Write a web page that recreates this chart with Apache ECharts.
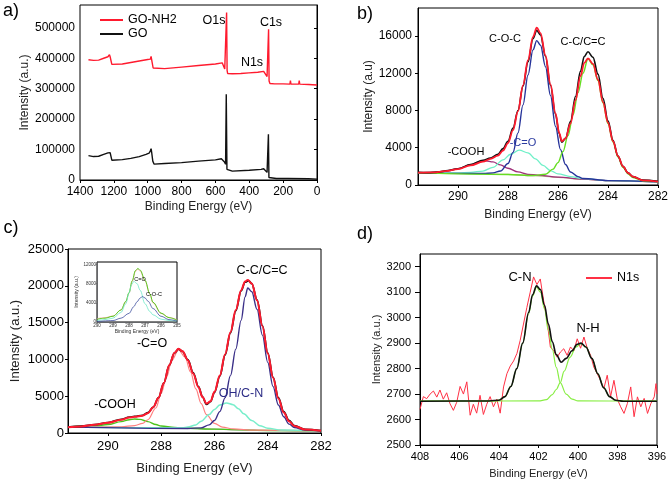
<!DOCTYPE html>
<html><head><meta charset="utf-8">
<script src="https://cdn.jsdelivr.net/npm/echarts@6/dist/echarts.min.js"></script>
<style>html,body{margin:0;padding:0;background:#fff}#c{width:671px;height:484px}</style>
</head><body><div id="c"></div>
<script>
// ---------- Panel a: survey spectra ----------
const aTicks = [0, 200, 400, 600, 800, 1000, 1200, 1400];
const a_GONH2 = [[1350,395000],[1320,393000],[1290,394000],[1260,400000],[1235,405000],[1226,412000],[1222,405000],[1212,380000],[1205,377000],[1150,381000],[1100,386000],[1050,391000],[1000,396000],[990,399000],[985,397000],[980,406000],[975,390000],[968,368000],[960,364000],[900,366000],[800,371000],[700,376000],[600,381000],[560,385000],[550,380000],[545,365000],[537,360000],[534,550000],[531,360000],[528,350000],[500,349000],[450,350000],[402,352000],[400,357000],[398,352000],[350,354000],[315,357000],[305,352000],[295,340000],[288,340000],[286,495000],[283,325000],[278,317000],[250,316000],[200,316000],[160,315000],[157,327000],[154,315000],[108,315000],[105,327000],[102,315000],[50,314000],[0,312000]];
const a_GO = [[1350,80000],[1320,77000],[1290,78000],[1260,84000],[1235,89000],[1226,95000],[1222,90000],[1212,65000],[1205,63000],[1150,67000],[1100,71000],[1050,77000],[1010,84000],[1000,90000],[992,88000],[985,95000],[980,103000],[976,88000],[970,62000],[962,52000],[900,54000],[800,57000],[700,62000],[600,66000],[565,70000],[555,72000],[548,60000],[540,52000],[536,282000],[532,35000],[528,30000],[500,29000],[400,32000],[330,35000],[315,37000],[305,32000],[295,25000],[290,25000],[287,150000],[284,8000],[280,5000],[240,5000],[233,9000],[230,5000],[172,5000],[170,9000],[168,5000],[50,4000],[0,3000]];

// ---------- Panel b: C1s of GO ----------
const b_raw = [[291.6,1350],[291.2,1330],[290.8,1380],[290.4,1550],[290,1750],[289.5,2200],[289,2650],[288.7,2900],[288.4,3300],[288.2,3900],[288,4700],[287.8,6100],[287.6,8000],[287.4,10600],[287.2,13200],[287,15700],[286.85,16600],[286.7,16100],[286.5,13800],[286.3,10700],[286.1,7600],[285.95,5500],[285.85,4600],[285.7,5000],[285.5,6800],[285.3,9500],[285.1,12200],[284.95,13800],[284.8,14300],[284.6,13700],[284.4,11900],[284.2,9300],[284,6900],[283.8,4800],[283.6,3100],[283.4,2000],[283.2,1300],[283,900],[282.6,520],[282,400]];
const b_fit = [[291.6,1320],[291,1350],[290.5,1480],[290,1700],[289.5,2100],[289,2500],[288.7,2800],[288.4,3150],[288.2,3700],[288,4500],[287.8,5900],[287.6,7900],[287.4,10700],[287.2,13400],[287,15900],[286.85,16900],[286.7,16300],[286.5,13900],[286.3,10800],[286.1,7700],[285.95,5600],[285.85,4700],[285.7,5000],[285.5,6600],[285.3,9100],[285.1,11700],[284.95,13100],[284.8,13600],[284.6,13000],[284.4,11300],[284.2,8900],[284,6700],[283.8,4700],[283.6,3100],[283.4,2000],[283.2,1300],[283,900],[282.6,500],[282,360]];
const b_COOH = [[291.6,1310],[291,1350],[290.5,1500],[290,1750],[289.5,2150],[289.2,2450],[288.9,2600],[288.6,2480],[288.3,2150],[288,1800],[287.6,1400],[287.2,1150],[286.8,1050],[286,850],[285,640],[284,470],[282,350]];
const b_CO = [[291.6,1300],[290,1300],[289.5,1350],[289,1500],[288.6,1900],[288.2,2700],[287.9,3300],[287.55,3750],[287.2,3450],[286.9,2800],[286.6,2100],[286.3,1550],[286,1200],[285.5,900],[285,680],[284,470],[282,350]];
const b_COC = [[291.6,1300],[289,1230],[288.6,1300],[288.3,1500],[288,2300],[287.8,3500],[287.6,5600],[287.4,8600],[287.2,11800],[287,14500],[286.85,15500],[286.7,15000],[286.5,12700],[286.3,9600],[286.1,6300],[285.9,3800],[285.7,2200],[285.5,1400],[285.2,900],[285,700],[284,470],[282,350]];
const b_CC = [[291.6,1300],[288,1130],[287,1020],[286.5,1150],[286.2,1700],[286,2400],[285.8,3600],[285.6,5300],[285.4,7500],[285.2,9900],[285,12000],[284.8,13550],[284.6,12900],[284.4,11200],[284.2,8800],[284,6600],[283.8,4600],[283.6,3000],[283.4,1900],[283.2,1200],[283,800],[282.6,450],[282,350]];
const b_bg = [[291.6,1300],[290,1280],[289,1220],[288,1130],[287,1000],[286,820],[285,620],[284,460],[283,380],[282,350]];

// ---------- Panel c: C1s of GO-NH2 ----------
const c_raw = [[291.5,800],[291,920],[290.5,1150],[290,1420],[289.5,1850],[289.2,2150],[289,2250],[288.7,2400],[288.5,2750],[288.3,3500],[288.1,4800],[287.9,6800],[287.7,9200],[287.5,10900],[287.35,11400],[287.2,11100],[287,9950],[286.8,8200],[286.6,6300],[286.45,4900],[286.3,3900],[286.15,4250],[286,5500],[285.8,7700],[285.6,10600],[285.4,13600],[285.2,16600],[285,19300],[284.85,20500],[284.72,20700],[284.6,20300],[284.4,18100],[284.2,14600],[284,10900],[283.8,7600],[283.6,4800],[283.4,2900],[283.2,1700],[283,1000],[282.6,500],[282,330]];
const c_fit = [[291.5,780],[291,900],[290.5,1130],[290,1400],[289.5,1800],[289.2,2100],[289,2200],[288.7,2350],[288.5,2700],[288.3,3500],[288.1,4800],[287.9,6800],[287.7,9200],[287.5,10900],[287.35,11450],[287.2,11100],[287,9900],[286.8,8100],[286.6,6200],[286.45,4900],[286.3,4000],[286.15,4300],[286,5600],[285.8,7800],[285.6,10700],[285.4,13700],[285.2,16700],[285,19400],[284.85,20600],[284.75,20800],[284.6,20300],[284.4,18000],[284.2,14500],[284,10800],[283.8,7500],[283.6,4700],[283.4,2800],[283.2,1600],[283,950],[282.6,480],[282,320]];
const c_COOH = [[291.5,820],[290.5,950],[290,1150],[289.5,1550],[289.2,1800],[289,1900],[288.8,1850],[288.5,1550],[288.2,1150],[288,950],[287.5,760],[287,640],[286,520],[284,340],[282,290]];
const c_CO = [[291.5,800],[289.5,850],[289,1000],[288.7,1300],[288.5,1800],[288.2,3400],[288,5400],[287.8,7600],[287.6,9900],[287.35,11300],[287.1,10300],[286.9,8300],[286.7,6000],[286.5,4000],[286.3,2500],[286,1300],[285.7,800],[285.3,550],[284.5,380],[282,290]];
const c_OH = [[291.5,800],[288,700],[287.2,720],[287,800],[286.7,1100],[286.5,1600],[286.2,2500],[286,3200],[285.8,3800],[285.55,4080],[285.3,3850],[285.1,3300],[284.9,2600],[284.6,1700],[284.3,1000],[284,650],[283.5,400],[282,290]];
const c_CC = [[291.5,800],[287,620],[286.5,700],[286.2,1100],[286,1700],[285.8,2900],[285.6,4800],[285.4,7800],[285.2,11400],[285,15300],[284.85,18500],[284.75,19700],[284.6,19200],[284.4,16800],[284.2,13300],[284,9600],[283.8,6300],[283.6,3800],[283.4,2200],[283.2,1200],[283,750],[282.6,400],[282,290]];
const c_bg = [[291.5,800],[290,780],[289,740],[288,690],[287,620],[286,520],[285,420],[284,340],[283,300],[282,290]];

// ---------- Inset of panel c ----------
const i_fit = [[290,700],[289.5,900],[289,1250],[288.5,2500],[288.2,4200],[288,6000],[287.8,8400],[287.6,10500],[287.45,11000],[287.3,10600],[287,8600],[286.7,5800],[286.5,4000],[286,1800],[285.5,950],[285,450]];
const i_env = [[290,560],[289.5,800],[289,1200],[288.5,2500],[288.2,4300],[288,6100],[287.8,8600],[287.6,10700],[287.45,11150],[287.3,10800],[287,8700],[286.7,5900],[286.5,4100],[286,1850],[285.5,900],[285,400]];
const i_CO = [[290,300],[289.5,500],[289,800],[288.5,2000],[288.2,3800],[288,6000],[287.85,7700],[287.7,8470],[287.5,8000],[287.3,6600],[287,3800],[286.7,2200],[286.5,1500],[286,600],[285.5,300],[285,200]];
const i_COC = [[290,100],[289,300],[288.5,800],[288,1800],[287.7,3200],[287.5,4200],[287.3,5000],[287.15,5300],[287,5000],[286.8,4300],[286.5,2800],[286,1200],[285.5,500],[285,200]];

// ---------- Panel d: N1s ----------
const d_raw = [[408.00,2640],[407.83,2690],[407.66,2682],[407.49,2700],[407.32,2712],[407.15,2688],[406.99,2716],[406.82,2680],[406.65,2705],[406.48,2662],[406.31,2636],[406.14,2668],[405.97,2730],[405.80,2700],[405.63,2748],[405.46,2617],[405.30,2660],[405.13,2625],[404.96,2695],[404.79,2620],[404.62,2660],[404.45,2690],[404.28,2650],[404.11,2680],[403.94,2625],[403.77,2728],[403.60,2780],[403.43,2810],[403.26,2830],[403.09,2860],[402.93,2910],[402.76,2975],[402.59,3040],[402.42,3100],[402.25,3160],[402.08,3130],[401.91,3152],[401.74,3067],[401.57,2990],[401.40,2885],[401.23,2870],[401.06,2845],[400.89,2865],[400.72,2878],[400.55,2852],[400.38,2885],[400.21,2870],[400.04,2917],[399.87,2880],[399.70,2924],[399.53,2880],[399.36,2852],[399.20,2806],[399.03,2780],[398.86,2754],[398.69,2722],[398.52,2774],[398.35,2690],[398.18,2754],[398.01,2680],[397.84,2650],[397.67,2624],[397.50,2663],[397.33,2728],[397.16,2611],[396.99,2689],[396.82,2650],[396.65,2683],[396.48,2624],[396.31,2663],[396.14,2689],[396.05,2741],[396.00,2700]];
const d_fit = [[408,2672],[404.5,2673],[404,2676],[403.7,2690],[403.4,2730],[403.1,2800],[402.8,2900],[402.5,3020],[402.3,3090],[402.1,3125],[401.9,3110],[401.7,3050],[401.5,2975],[401.3,2905],[401.1,2855],[400.85,2825],[400.6,2840],[400.3,2870],[400.05,2895],[399.85,2900],[399.6,2885],[399.3,2840],[399,2780],[398.7,2725],[398.4,2690],[398.1,2676],[397.7,2672],[396,2672]];
const d_CN = [[408,2672],[404.3,2673],[404,2676],[403.7,2690],[403.4,2730],[403.1,2800],[402.8,2900],[402.5,3015],[402.3,3085],[402.1,3120],[401.9,3100],[401.7,3035],[401.5,2950],[401.3,2875],[401.1,2805],[400.9,2745],[400.6,2700],[400.3,2680],[400,2673],[396,2672]];
const d_NH = [[408,2672],[402,2673],[401.6,2678],[401.3,2698],[401.1,2718],[400.9,2745],[400.7,2790],[400.4,2845],[400.1,2885],[399.85,2898],[399.6,2885],[399.3,2840],[399,2780],[398.7,2725],[398.4,2690],[398.1,2676],[397.7,2672],[396,2672]];

const FONT = '"Liberation Sans", Arial, sans-serif';
const chart = echarts.init(document.getElementById('c'), null, {renderer: 'canvas'});
const plain = v => String(v);

function ax(g, min, max, interval, fs, name, gap, lm, showMax, inverse, extra) {
  const o = {
    gridIndex: g, type: 'value', min, max, interval, inverse: !!inverse,
    name, nameLocation: 'middle', nameGap: gap,
    nameTextStyle: {fontFamily: FONT, fontSize: fs, color: '#222'},
    axisLine: {lineStyle: {color: '#000', width: 1}},
    axisTick: {length: 3, lineStyle: {color: '#000'}},
    axisLabel: {fontFamily: FONT, fontSize: fs, color: '#000', margin: lm, showMaxLabel: showMax, showMinLabel: true, formatter: plain},
    splitLine: {show: false}
  };
  if (extra) {
    for (const k in extra) {
      if (typeof extra[k] === 'object' && o[k]) o[k] = Object.assign({}, o[k], extra[k]);
      else o[k] = extra[k];
    }
  }
  return o;
}
function ln(name, data, g, color, width, smooth, z) {
  return {name, type: 'line', data, xAxisIndex: g, yAxisIndex: g, symbol: 'none', showSymbol: false,
    smooth: smooth ? 0.35 : false, smoothMonotone: smooth ? 'x' : undefined,
    lineStyle: {color, width}, itemStyle: {color}, z: z || 2, animation: false, silent: true};
}

const gridBase = {show: true, borderColor: '#000', borderWidth: 1, backgroundColor: 'transparent', containLabel: false};
function txt(text, x, y, fs, color) {
  return {type: 'text', x, y, silent: true, z: 100,
    style: {text, fill: color || '#000', font: fs + 'px ' + FONT, textAlign: 'center', textVerticalAlign: 'middle', verticalAlign: 'middle', align: 'center'}};
}
const insetAx = {axisTick: {length: 1.5, lineStyle: {width: 0.5}}, axisLine: {lineStyle: {width: 0.6}}, axisLabel: {fontSize: 4.5, color: '#333', margin: 1}, nameTextStyle: {fontSize: 5, color: '#333'}};

const option = {
  backgroundColor: '#fff',
  animation: false,
  grid: [
    Object.assign({left: 80, top: 5, width: 237, height: 175}, gridBase),
    Object.assign({left: 418, top: 8, width: 242, height: 177}, gridBase),
    Object.assign({left: 68, top: 249, width: 253, height: 184}, gridBase),
    Object.assign({left: 420, top: 254, width: 237, height: 191}, gridBase),
    Object.assign({}, gridBase, {left: 97, top: 262, width: 80, height: 60, backgroundColor: '#fff', z: 5})
  ],
  xAxis: [
    ax(0, 0, 1400, 200, 12, 'Binding Energy (eV)', 21, 6, true, true),
    ax(1, 282, 291.6, 2, 12, 'Binding Energy (eV)', 24, 6, false, true),
    ax(2, 282, 291.5, 2, 13, 'Binding Energy (eV)', 29, 7, false, true),
    ax(3, 396, 408, 2, 11, 'Binding Energy (eV)', 23, 6, true, true),
    ax(4, 285, 290, 1, 5, 'Binding Energy (eV)', 6, 1, true, true, Object.assign({z: 6}, insetAx))
  ],
  yAxis: [
    ax(0, 0, 575000, 100000, 12, 'Intensity (a.u.)', 47, 5, false, false),
    ax(1, 0, 19000, 4000, 12, 'Intensity (a.u)', 42, 6, false, false),
    ax(2, 0, 25000, 5000, 13, 'Intensity (a.u.)', 46, 4, true, false),
    ax(3, 2500, 3250, 100, 11, 'Intensity (a.u.)', 37, 9, false, false, {axisTick: {length: 5}}),
    ax(4, 0, 12500, 4000, 5, 'Intensity (a.u.)', 15, 1, false, false, Object.assign({z: 6}, insetAx))
  ],
  legend: [
    {data: ['GO-NH2', 'GO'], orient: 'vertical', left: 100, top: 13, icon: 'rect', itemWidth: 23, itemHeight: 2, itemGap: 0,
     textStyle: {fontFamily: FONT, fontSize: 12.5, color: '#000', lineHeight: 14}, selectedMode: false, padding: 0},
    {data: ['N1s'], orient: 'vertical', left: 586, top: 271, icon: 'rect', itemWidth: 26, itemHeight: 2, padding: 0,
     textStyle: {fontFamily: FONT, fontSize: 12.5, color: '#000', lineHeight: 14}, selectedMode: false}
  ],
  series: [
    ln('GO-NH2', a_GONH2, 0, '#ff1a2e', 1.4, false, 3),
    ln('GO', a_GO, 0, '#111111', 1.4, false, 3),

    ln('bg_b', b_bg, 1, '#b8b48a', 1.2, true),
    ln('COOH_b', b_COOH, 1, '#a0307a', 1.3, true),
    ln('CO_b', b_CO, 1, '#70f0c8', 1.3, true),
    ln('COC_b', b_COC, 1, '#26339a', 1.4, true),
    ln('CC_b', b_CC, 1, '#66dd22', 1.4, true),
    ln('raw_b', b_raw, 1, '#111111', 1.6, true, 3),
    ln('fit_b', b_fit, 1, '#ff1a2e', 1.8, true, 4),

    ln('bg_c', c_bg, 2, '#a8a8a0', 1.2, true),
    ln('COOH_c', c_COOH, 2, '#4cc41c', 1.4, true),
    ln('CO_c', c_CO, 2, '#ff8080', 1.2, true),
    ln('OH_c', c_OH, 2, '#78eecb', 1.5, true),
    ln('CC_c', c_CC, 2, '#3a2f88', 1.4, true),
    ln('raw_c', c_raw, 2, '#111111', 1.8, true, 3),
    ln('fit_c', c_fit, 2, '#ff1a2e', 2, true, 4),

    ln('fit_i', i_fit, 4, '#ff9a9a', 0.8, true, 6),
    ln('env_i', i_env, 4, '#55cc22', 1, true, 7),
    ln('CO_i', i_CO, 4, '#70e8c8', 0.8, true, 7),
    ln('COC_i', i_COC, 4, '#4050a0', 0.8, true, 7),

    ln('N1s', d_raw, 3, '#ff3044', 1, false, 2),
    ln('CN_d', d_CN, 3, '#88ee44', 1.2, true, 3),
    ln('NH_d', d_NH, 3, '#88ee44', 1.2, true, 3),
    ln('fit_d', d_fit, 3, '#111111', 1.6, true, 4)
  ],
  graphic: [
    txt('a)', 11, 11, 18),
    txt('b)', 365, 14, 18),
    txt('c)', 11, 228, 18),
    txt('d)', 365, 234, 18),
    txt('O1s', 214, 21, 12.5),
    txt('C1s', 271, 23, 12.5),
    txt('N1s', 252, 63, 12.5),
    txt('C-O-C', 505, 39, 11),
    txt('C-C/C=C', 583, 42, 11),
    txt('-C=O', 523, 143, 11, '#2a3aa0'),
    txt('-COOH', 466, 152, 11),
    txt('C-C/C=C', 262, 271, 12.5),
    txt('-C=O', 152, 344, 12.5),
    txt('OH/C-N', 241, 394, 12.5, '#2c2c86'),
    txt('-COOH', 115, 405, 12.5),
    txt('C=O', 140, 279, 5.5),
    txt('C-O-C', 154, 294, 5.5),
    txt('C-N', 520, 277, 13),
    txt('N-H', 588, 328, 13)
  ]
};
chart.setOption(option);
</script>
</body></html>
